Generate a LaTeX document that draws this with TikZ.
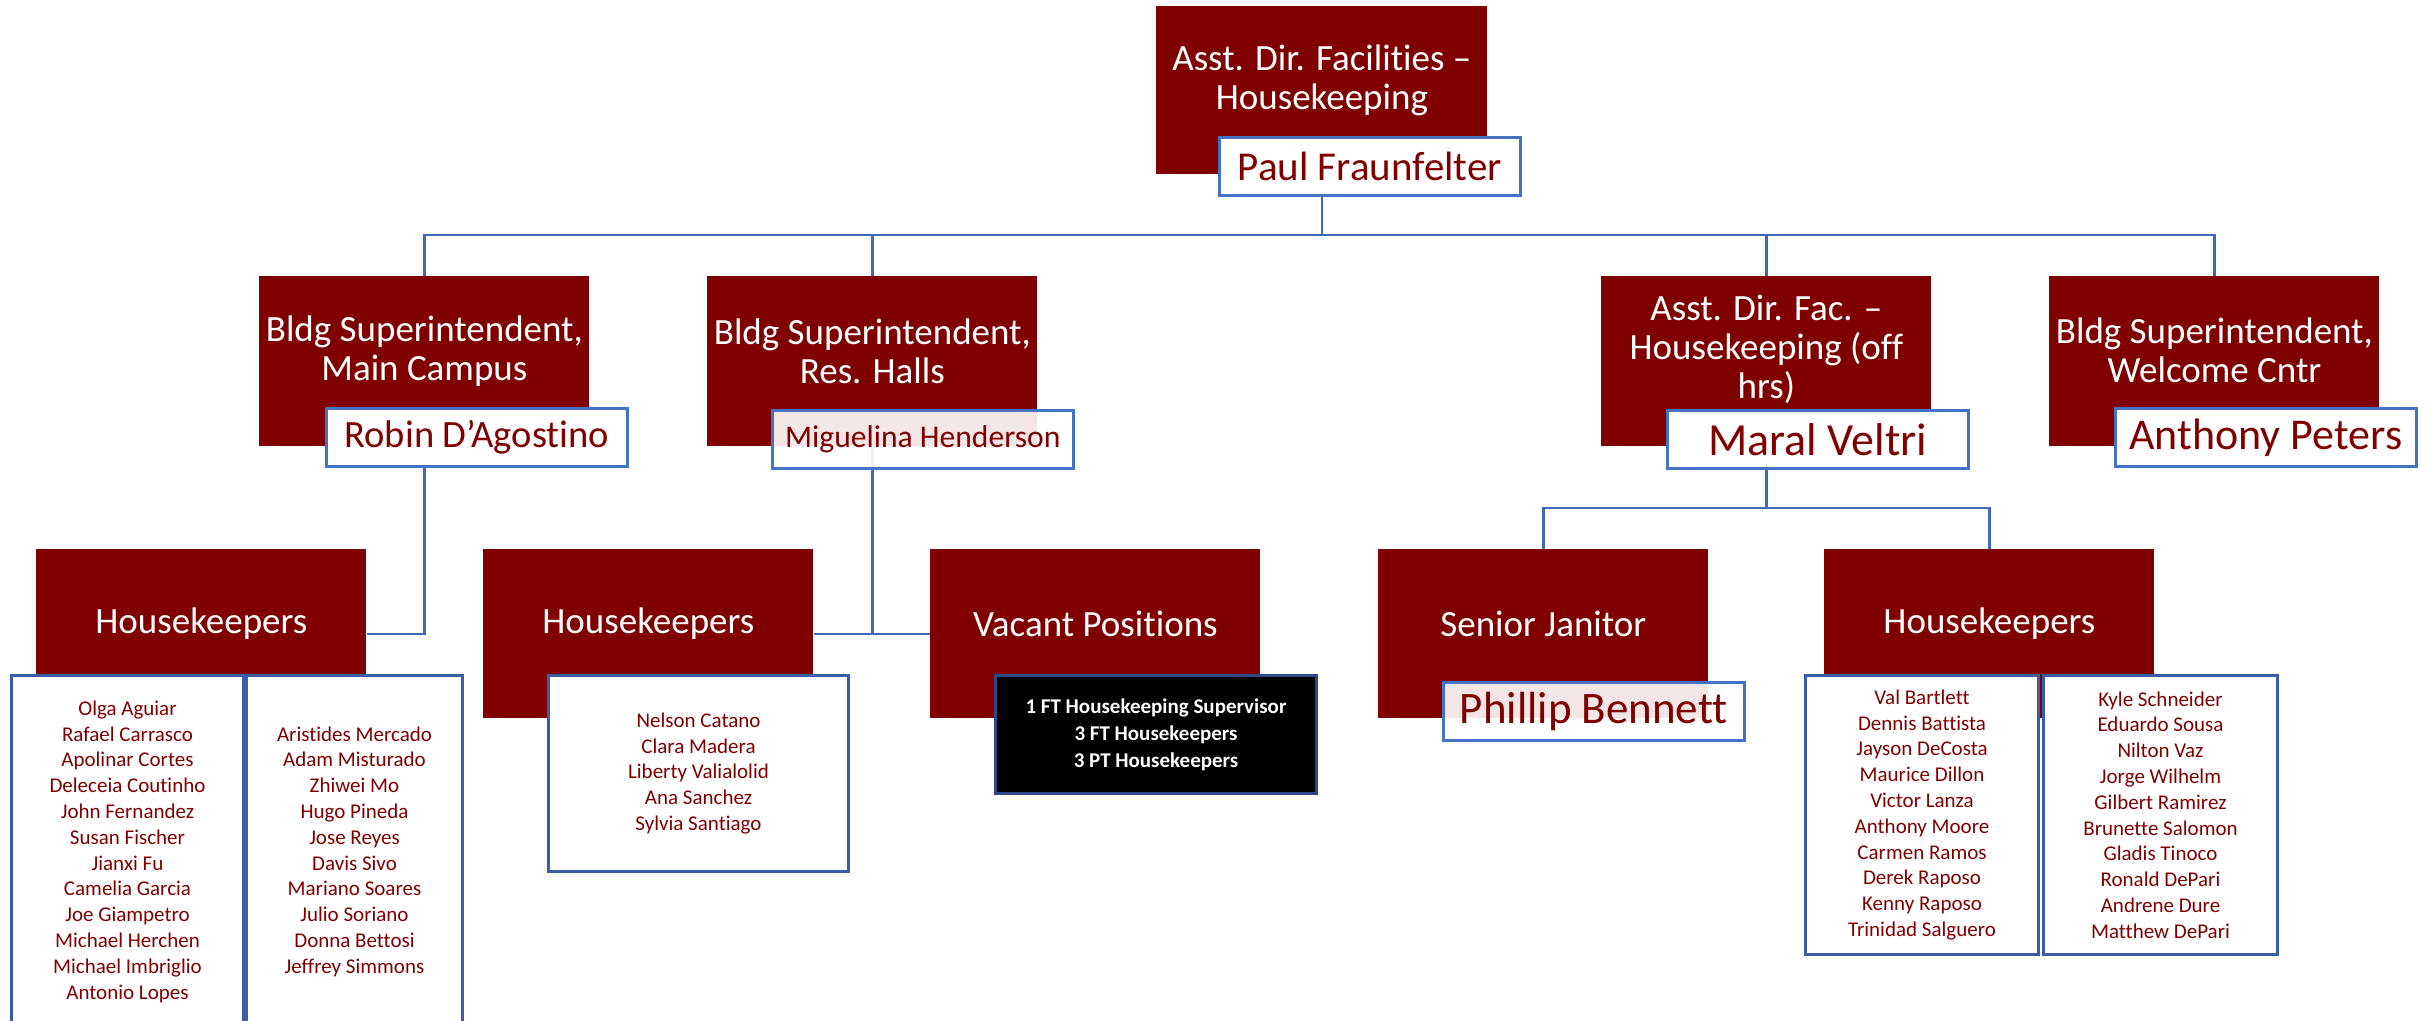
\documentclass[tikz,border=0pt]{standalone}
\usepackage{fontspec}
\setmainfont{Carlito}[Ligatures={NoCommon}]
\usepackage{xcolor}
\usepackage{tikz}
\usetikzlibrary{positioning,backgrounds}

\definecolor{dirred}{HTML}{800000}
\definecolor{nameblue}{HTML}{4472C4}
\definecolor{lineblue}{HTML}{4069B8}
\definecolor{listblue}{HTML}{3A5DA8}

\begin{document}
\begin{tikzpicture}[
    x=0.5pt, y=-0.5pt,
    title/.style={rectangle, fill=dirred, minimum width=165pt, minimum height=85pt, anchor=north west, inner sep=0pt},
    title_text/.style={text=white, align=center, font=\fontsize{18.5}{19.5}\selectfont},
    person/.style={rectangle, draw=nameblue, line width=1.3pt, fill=white, text=dirred, minimum width=150.5pt, minimum height=29pt, anchor=north west, inner sep=0pt},
    person_faded/.style={person, fill opacity=0.9, text opacity=1},
    staff/.style={rectangle, draw=listblue, line width=1.5pt, fill=white, text=dirred, align=center, anchor=north west, inner sep=0pt, font=\fontsize{10.5}{12.9}\selectfont},
    link/.style={draw=lineblue, line width=1.2pt},
]
\useasboundingbox (0,0) rectangle (2433,1021);
\clip (0,0) rectangle (2433,1021);

% Director
\node[title, minimum width=165.5pt, minimum height=84pt] (dir) at (1156,6) {};
\node[title_text] (dirT) at ([yshift=5pt]dir.center) {Asst. Dir. Facilities –\\Housekeeping};
\node[person, font=\fontsize{20.5}{24}\selectfont] (paul) at (1218,136) {Paul Fraunfelter};

% Row 2 (four superintendents)
\node[title] (campus) at (259,276) {};
\node[title_text] (campusT) at ([yshift=5pt]campus.center) {Bldg Superintendent,\\Main Campus};
\node[person, font=\fontsize{19.3}{23}\selectfont] (robin) at (325,407) {Robin D’Agostino};

\node[title] (halls) at (707,276) {};
\node[title_text] (hallsT) at ([yshift=5pt]halls.center) {Bldg Superintendent,\\Res. Halls};
\node[person_faded, font=\fontsize{15.8}{19}\selectfont] (miguelina) at (771,409) {Miguelina Henderson};

\node[title] (offhrs) at (1601,276) {};
\node[title_text] (offhrsT) at ([yshift=6pt]offhrs.center) {Asst. Dir. Fac. –\\Housekeeping (off\\hrs)};
\node[person, font=\fontsize{23}{27}\selectfont] (maral) at (1666,409) {Maral Veltri};

\node[title] (welcome) at (2049,276) {};
\node[title_text] (welcomeT) at ([yshift=5.5pt]welcome.center) {Bldg Superintendent,\\Welcome Cntr};
\node[person, font=\fontsize{22}{26}\selectfont] (anthony) at (2114,407) {Anthony Peters};

% Row 3 (teams)
\node[title, minimum height=84.5pt] (keepA) at (36,549) {};
\node[title_text] (keepAT) at ([yshift=5pt]keepA.center) {Housekeepers};
\node[title, minimum height=84.5pt] (keepB) at (483,549) {};
\node[title_text] (keepBT) at ([yshift=5pt]keepB.center) {Housekeepers};
\node[title, minimum height=84.5pt] (vacant) at (930,549) {};
\node[title_text] (vacantT) at ([yshift=5pt]vacant.center) {Vacant Positions};
\node[title, minimum height=84.5pt] (janitor) at (1378,549) {};
\node[title_text] (janitorT) at ([yshift=5pt]janitor.center) {Senior Janitor};
\node[person_faded, font=\fontsize{22.5}{26}\selectfont] (phillip) at (1442,681) {Phillip Bennett};
\node[title, minimum height=84.5pt] (keepC) at (1824,549) {};
\node[title_text] (keepCT) at ([yshift=5pt]keepC.center) {Housekeepers};

% Staff lists
\node[staff, minimum width=116pt, minimum height=176pt] (keepA1) at (10,674) {Olga Aguiar\\Rafael Carrasco\\Apolinar Cortes\\Deleceia Coutinho\\John Fernandez\\Susan Fischer\\Jianxi Fu\\Camelia Garcia\\Joe Giampetro\\Michael Herchen\\Michael Imbriglio\\Antonio Lopes};
\node[staff, minimum width=108pt, minimum height=176pt, right=0pt of keepA1] (keepA2) {Aristides Mercado\\Adam Misturado\\Zhiwei Mo\\Hugo Pineda\\Jose Reyes\\Davis Sivo\\Mariano Soares\\Julio Soriano\\Donna Bettosi\\Jeffrey Simmons};
\node[staff, minimum width=150pt, minimum height=98pt] (keepB1) at (547,674) {Nelson Catano\\Clara Madera\\Liberty Valialolid\\Ana Sanchez\\Sylvia Santiago};
\node[staff, fill=black, text=white, draw=listblue!80!black, font=\bfseries\fontsize{10.5}{13.5}\selectfont, minimum width=160.5pt, minimum height=59pt] (openings) at (994,674) {1 FT Housekeeping Supervisor\\3 FT Housekeepers\\3 PT Housekeepers};
\node[staff, minimum width=116.5pt, minimum height=139.5pt] (keepC1) at (1804,674) {Val Bartlett\\Dennis Battista\\Jayson DeCosta\\Maurice Dillon\\Victor Lanza\\Anthony Moore\\Carmen Ramos\\Derek Raposo\\Kenny Raposo\\Trinidad Salguero};
\node[staff, minimum width=117pt, minimum height=139.5pt, right=1pt of keepC1] (keepC2) {Kyle Schneider\\Eduardo Sousa\\Nilton Vaz\\Jorge Wilhelm\\Gilbert Ramirez\\Brunette Salomon\\Gladis Tinoco\\Ronald DePari\\Andrene Dure\\Matthew DePari};

% Connectors
\begin{scope}[on background layer]
\draw[link] (dir.south) -- ++(0,60) -| (campus.north);
\draw[link] (dir.south) -- ++(0,60) -| (halls.north);
\draw[link] (dir.south) -- ++(0,60) -| (offhrs.north);
\draw[link] (dir.south) -- ++(0,60) -| (welcome.north);
\draw[link] (campus.south) |- (keepA.east);
\draw[link] (halls.south) -- (halls.south |- keepB.east);
\draw[link] (keepB.east) -- (vacant.west);
\draw[link] (offhrs.south) -- ++(0,61) -| (janitor.north);
\draw[link] (offhrs.south) -- ++(0,61) -| (keepC.north);
\end{scope}
\end{tikzpicture}
\end{document}
